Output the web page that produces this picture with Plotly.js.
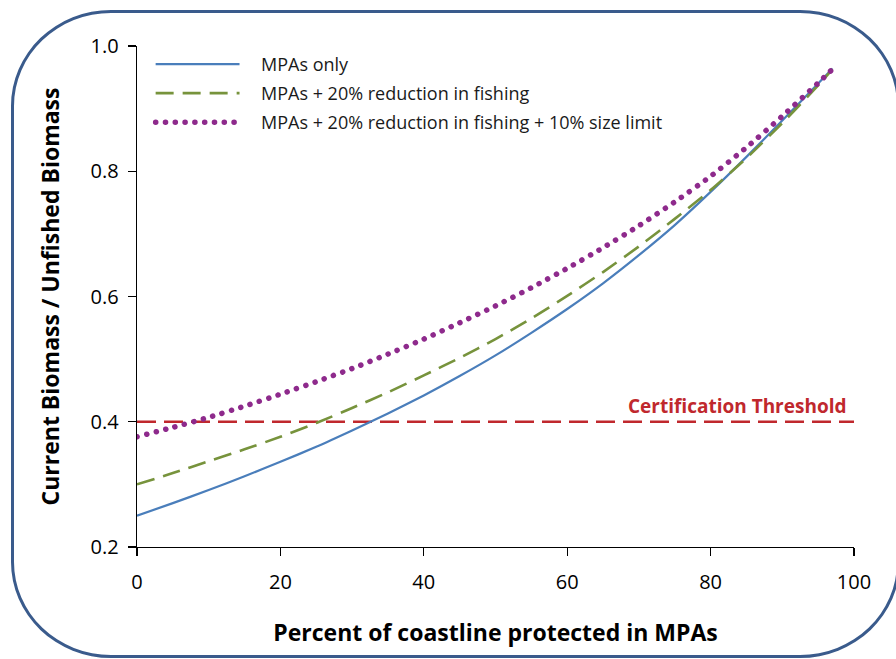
<!DOCTYPE html>
<html>
<head>
<meta charset="utf-8">
<script src="https://cdn.plot.ly/plotly-3.0.1.min.js"></script>
<style>
  html, body { margin: 0; padding: 0; background: #fff; overflow: hidden; }
  #chart { position: absolute; left: 0; top: 0; width: 896px; height: 659px; }
  #frame { position: absolute; left: 11px; top: 10px; width: 889px; height: 648px;
           box-sizing: border-box; border: 3.5px solid #3a5b8c; border-radius: 100px / 96px;
           pointer-events: none; }
  path[style*="9.7px"] { stroke-linecap: round !important; }
</style>
</head>
<body>
<div id="chart"></div>
<div id="frame"></div>
<script>
// Percent of coastline protected in MPAs
const pctX = [0, 5, 10, 15, 20, 25, 30, 35, 40, 45, 50, 55, 60, 65, 70, 75, 80, 85, 90, 95, 97];
// Current biomass / unfished biomass
const mpasOnly = [0.250, 0.270, 0.291, 0.313, 0.336, 0.360, 0.386, 0.413, 0.442, 0.473, 0.506, 0.542, 0.580, 0.621, 0.666, 0.714, 0.767, 0.823, 0.881, 0.940, 0.964];
const mpasFishing = [0.300, 0.318, 0.337, 0.356, 0.376, 0.398, 0.422, 0.447, 0.474, 0.502, 0.532, 0.565, 0.601, 0.639, 0.680, 0.724, 0.770, 0.821, 0.877, 0.937, 0.963];
const mpasFishingSize = [0.376, 0.391, 0.407, 0.425, 0.444, 0.464, 0.485, 0.508, 0.532, 0.558, 0.585, 0.614, 0.645, 0.678, 0.713, 0.751, 0.792, 0.838, 0.888, 0.941, 0.963];
const seriesNames = ["MPAs only", "MPAs + 20% reduction in fishing", "MPAs + 20% reduction in fishing + 10% size limit"];
const thresholdX = [0, 100];
const thresholdY = [0.4, 0.4];
const thresholdLabel = "Certification Threshold";
const xTicks = [0, 20, 40, 60, 80, 100];
const yTicks = [0.2, 0.4, 0.6, 0.8, 1.0];
const yTickText = ["0.2", "0.4", "0.6", "0.8", "1.0"];

const FONT = "Open Sans, Noto Sans, sans-serif";
const colors = ["#4a7ebb", "#77933c", "#8e2a8c"];
const dashes = ["solid", "18px,9px", "0.1px,9.7px"];
const widths = [2.2, 2.6, 5.5];
const seriesY = [mpasOnly, mpasFishing, mpasFishingSize];

const traces = [{
  type: "scatter", mode: "lines", x: thresholdX, y: thresholdY, name: thresholdLabel,
  line: { color: "#c0282d", width: 2.6, dash: "19px,8px" }, showlegend: false, hoverinfo: "skip"
}];
seriesY.forEach((ys, i) => traces.push({
  type: "scatter", mode: "lines", x: pctX, y: ys, name: seriesNames[i],
  line: { color: colors[i], width: widths[i], dash: dashes[i], shape: "spline", smoothing: 0.6 },
  showlegend: false, hoverinfo: "skip"
}));

// Legend (drawn in paper coordinates)
const legRowsY = [0.964, 0.906, 0.848];
const shapes = [];
const annotations = [];
seriesNames.forEach((nm, i) => {
  shapes.push({ type: "line", xref: "paper", yref: "paper", x0: 0.026, x1: 0.143, y0: legRowsY[i], y1: legRowsY[i],
    line: { color: colors[i], width: widths[i], dash: dashes[i] } });
  annotations.push({ xref: "paper", yref: "paper", x: 0.170, y: legRowsY[i], xanchor: "left", yanchor: "middle",
    text: nm, showarrow: false, font: { family: FONT, size: 18, color: "#1a1a1a" } });
});
annotations.push({ xref: "x", yref: "y", x: 99.3, y: thresholdY[0], xanchor: "right", yanchor: "bottom", yshift: 1,
  text: "<b>" + thresholdLabel + "</b>", showarrow: false, font: { family: FONT, size: 19, color: "#c0282d" } });

const layout = {
  width: 896, height: 659,
  margin: { l: 137, r: 42, t: 46, b: 112 },
  paper_bgcolor: "#ffffff", plot_bgcolor: "#ffffff",
  font: { family: FONT, color: "#000" },
  xaxis: {
    range: [0, 100], tickvals: xTicks, ticks: "outside", ticklen: 8, tickwidth: 1.4, tickcolor: "#000",
    showline: true, linecolor: "#000", linewidth: 1.4, showgrid: false, zeroline: false,
    ticklabelstandoff: 9,
    tickfont: { family: FONT, size: 20, color: "#000" },
    title: { text: "<b>Percent of coastline protected in MPAs</b>", font: { family: FONT, size: 23, color: "#000" }, standoff: 30 }
  },
  yaxis: {
    range: [0.2, 1.0], tickvals: yTicks, ticktext: yTickText, ticks: "outside", ticklen: 8, tickwidth: 1.4, tickcolor: "#000",
    showline: true, linecolor: "#000", linewidth: 1.4, showgrid: false, zeroline: false,
    ticklabelstandoff: 5,
    tickfont: { family: FONT, size: 20, color: "#000" },
    title: { text: "<b>Current Biomass / Unfished Biomass</b>", font: { family: FONT, size: 23, color: "#000" }, standoff: 24 }
  },
  shapes: shapes,
  annotations: annotations
};

Plotly.newPlot("chart", traces, layout, { displayModeBar: false, staticPlot: true });
</script>
</body>
</html>
